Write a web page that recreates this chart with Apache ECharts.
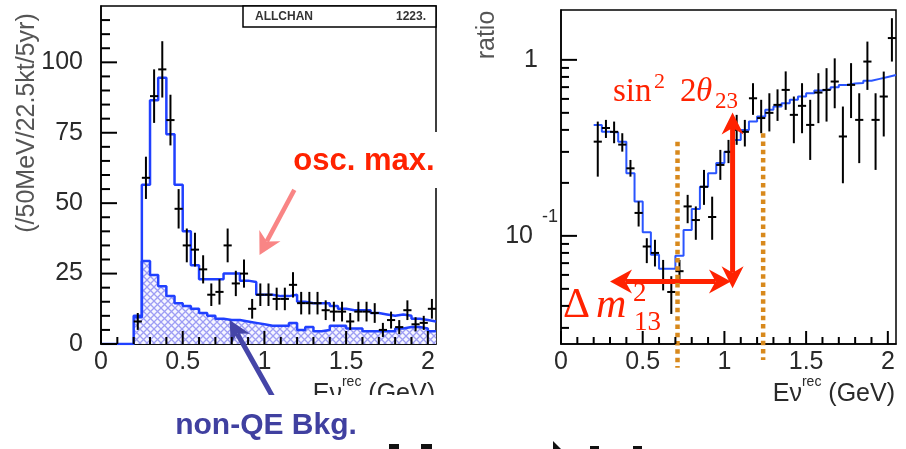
<!DOCTYPE html>
<html>
<head>
<meta charset="utf-8">
<script src="https://cdn.jsdelivr.net/npm/echarts@6/dist/echarts.min.js"></script>
<style>
  html, body { margin: 0; background: #fff; }
  #wrap { position: relative; width: 906px; height: 449px; }
  #chart { position: absolute; left: 0; top: 0; width: 906px; height: 449px; background: #fff; }
  #ticks { position: absolute; left: 0; top: 0; pointer-events: none; }
</style>
</head>
<body>
<div id="wrap">
  <div id="chart"></div>
  <canvas id="ticks" width="906" height="449"></canvas>
</div>
<script>
// 50 MeV bins of reconstructed neutrino energy (bin centres, GeV)
const energy = [0.225, 0.275, 0.325, 0.375, 0.425, 0.475, 0.525, 0.575, 0.625, 0.675,
  0.725, 0.775, 0.825, 0.875, 0.925, 0.975, 1.025, 1.075, 1.125, 1.175,
  1.225, 1.275, 1.325, 1.375, 1.425, 1.475, 1.525, 1.575, 1.625, 1.675,
  1.725, 1.775, 1.825, 1.875, 1.925, 1.975, 2.025]
const binWidth = 0.05

// left: events /50MeV/22.5kt/5yr
const expTotal = [10, 56.5, 86.5, 94.5, 74.5, 56.5, 40, 28, 23, 23,
  23, 25, 25, 22.5, 22, 17.5, 17.5, 17, 17, 17.5,
  15, 14.5, 14.5, 14.5, 13.5, 12.5, 12, 12, 12, 11,
  10.5, 10, 10.5, 10, 9, 8.5, 8]
const expBkg = [9.5, 29.5, 24.5, 20.5, 17, 14.5, 13.5, 12.5, 11, 10,
  9, 8.5, 8.5, 8, 7.5, 7, 6.5, 6.5, 6.5, 7.5,
  5, 6, 4.5, 5, 6.5, 6.5, 5.5, 5.5, 4.5, 4.5,
  4.5, 4.5, 5.5, 6, 6, 5.5, 4.5]
const obsCount = [8, 59, 88, 97.5, 79.5, 48, 35, 33.5, 26.5, 17.5,
  18.5, 35, 21.5, 25, 12.5, 17.5, 17.5, 16, 16, 21,
  14.5, 14.5, 14.5, 12, 11.5, 11.5, 8, 11.5, 11.5, 11,
  5, 8.5, 6, 12, 7, 7.5, 12.5]
const obsErr = [3, 7.5, 9.5, 10, 9, 7, 6, 6, 5, 4,
  4.5, 6, 4.5, 5, 3.5, 4, 4, 4, 4, 4.5,
  4, 4, 4, 3.5, 3.5, 3.5, 3, 3.5, 3.5, 3.5,
  2.5, 3, 2.5, 3.5, 2.5, 2.5, 3.5]

// right: oscillated / unoscillated ratio
const ratioExp = [0.427, 0.39, 0.387, 0.343, 0.227, 0.157, 0.105, 0.078, 0.065, 0.065,
  0.077, 0.108, 0.142, 0.19, 0.227, 0.259, 0.301, 0.351, 0.40, 0.446,
  0.476, 0.52, 0.543, 0.567, 0.593, 0.619, 0.646, 0.67, 0.68, 0.70,
  0.72, 0.735, 0.74, 0.76, 0.78, 0.80, 0.82]
const ratioObs = [0.343, 0.41, 0.39, 0.33, 0.242, 0.135, 0.087, 0.08, 0.056, 0.048,
  0.063, 0.147, 0.123, 0.19, 0.128, 0.253, 0.30, 0.40, 0.39, 0.605,
  0.467, 0.50, 0.555, 0.675, 0.487, 0.548, 0.427, 0.652, 0.675, 0.753,
  0.367, 0.721, 0.456, 0.978, 0.456, 0.619, 1.33]
const ratioLo = [0.217, 0.36, 0.336, 0.301, 0.217, 0.113, 0.07, 0.067, 0.049, 0.036,
  0.054, 0.118, 0.095, 0.15, 0.095, 0.208, 0.259, 0.329, 0.322, 0.487,
  0.383, 0.392, 0.45, 0.52, 0.336, 0.383, 0.27, 0.437, 0.446, 0.531,
  0.199, 0.467, 0.259, 0.675, 0.237, 0.367, 0.978]
const ratioHi = [0.446, 0.456, 0.446, 0.383, 0.27, 0.157, 0.097, 0.095, 0.073, 0.059,
  0.073, 0.171, 0.147, 0.237, 0.167, 0.308, 0.351, 0.487, 0.456, 0.737,
  0.593, 0.646, 0.68, 0.86, 0.619, 0.737, 0.593, 0.84, 0.897, 1.02,
  0.543, 0.958, 0.646, 1.27, 0.646, 0.858, 1.725]

// tick positions (ROOT style, drawn inside the frame)
const xMajorTicks = [0, 0.5, 1, 1.5, 2]
const xMinorTicks = [0.1, 0.2, 0.3, 0.4, 0.6, 0.7, 0.8, 0.9, 1.1, 1.2, 1.3, 1.4, 1.6, 1.7, 1.8, 1.9]
const countMajorTicks = [0, 25, 50, 75, 100]
const countMinorTicks = [5, 10, 15, 20, 30, 35, 40, 45, 55, 60, 65, 70, 80, 85, 90, 95, 105, 110, 115]
const logMajorTicks = [0.1, 1]
const logMinorTicks = [0.03, 0.04, 0.05, 0.06, 0.07, 0.08, 0.09, 0.2, 0.3, 0.4, 0.5, 0.6, 0.7, 0.8, 0.9]

// annotations in axis units [GeV, value]
const oscArrow = [[1.183, 54.7], [0.97, 31.6]]
const bkgArrow = [[1.055, -19.2], [0.787, 8.5]]
const cutEnergy = [0.713, 1.237]
const cutTop = [0.342, 0.383]
const cutBottom = [0.0178, 0.0197]
const dm2Arrow = [[0.30, 0.055], [1.04, 0.055]]
const th23Arrow = [[1.05, 0.0504], [1.05, 0.502]]

const sans = '"Liberation Sans", Arial, Helvetica, sans-serif'
const serif = '"Liberation Serif", "Times New Roman", serif'
const red = '#ff2200'
const blue = '#2040ff'
const yMin = [0, 0.0243]

const steps = (vals, start) => {
  const pts = start ? [start] : []
  vals.forEach((v, i) => pts.push([energy[i] - binWidth / 2, v]))
  pts.push([energy[energy.length - 1] + binWidth / 2, vals[vals.length - 1]])
  return pts
}

const hatch = document.createElement('canvas')
hatch.width = 7
hatch.height = 7
const hctx = hatch.getContext('2d')
hctx.fillStyle = '#f6f6ff'
hctx.fillRect(0, 0, 7, 7)
hctx.strokeStyle = 'rgba(120,120,240,0.7)'
hctx.lineWidth = 1.3
hctx.beginPath()
hctx.moveTo(0, 0); hctx.lineTo(7, 7)
hctx.moveTo(7, 0); hctx.lineTo(0, 7)
hctx.stroke()

const seg = (a, b, color, width) => ({
  type: 'line', shape: { x1: a[0], y1: a[1], x2: b[0], y2: b[1] }, style: { stroke: color, lineWidth: width }
})

const crossRender = (params, api) => {
  const x = api.value(0)
  const v = api.value(1)
  return {
    type: 'group',
    children: [
      seg(api.coord([x, api.value(2)]), api.coord([x, api.value(3)]), '#000', 2),
      seg(api.coord([x - binWidth / 2, v]), api.coord([x + binWidth / 2, v]), '#000', 2)
    ]
  }
}

const head = (tip, ux, uy, len, half, color) => {
  const bx = tip[0] - ux * len
  const by = tip[1] - uy * len
  const nx = -uy
  const ny = ux
  return {
    type: 'polygon',
    shape: { points: [tip, [bx + nx * half, by + ny * half], [tip[0] - ux * len * 0.7, tip[1] - uy * len * 0.7], [bx - nx * half, by - ny * half]] },
    style: { fill: color }
  }
}

const arrow = (p0, p1, color, width, len, half, both) => {
  const dx = p1[0] - p0[0]
  const dy = p1[1] - p0[1]
  const d = Math.hypot(dx, dy)
  const ux = dx / d
  const uy = dy / d
  const s = both ? [p0[0] + ux * len * 0.7, p0[1] + uy * len * 0.7] : p0
  const e = [p1[0] - ux * len * 0.7, p1[1] - uy * len * 0.7]
  const out = [seg(s, e, color, width), head(p1, ux, uy, len, half, color)]
  if (both) out.push(head(p0, -ux, -uy, len, half, color))
  return out
}

const xAxisOf = (gridIndex) => ({
  gridIndex,
  type: 'value',
  min: 0,
  max: 2.05,
  interval: 0.5,
  axisLine: { show: true, onZero: false, lineStyle: { color: '#000', width: 1.5 } },
  splitLine: { show: false },
  axisTick: { show: false },
  minorTick: { show: false },
  axisLabel: {
    margin: 6, fontSize: 25, color: '#2a2a2a', fontFamily: sans,
    formatter: (v) => (v > 2.01 ? '' : String(v))
  }
})

const txt = (text, x, y, font, fill, align, extra) => Object.assign({
  type: 'text', x, y, z: 110,
  style: { text, font, fill, textAlign: align, align, textVerticalAlign: 'middle', verticalAlign: 'middle' }
}, extra || {})

const titleRich = {
  m: { font: '25px ' + sans, fill: '#2a2a2a', textFill: '#2a2a2a' },
  s: { font: '14px ' + sans, fill: '#2a2a2a', textFill: '#2a2a2a', padding: [0, 0, 24, 0] }
}

const option = {
  animation: false,
  grid: [
    { left: 101, top: 6, width: 335, height: 338, show: true, borderColor: '#000', borderWidth: 1.5 },
    { left: 561, top: 10, width: 335, height: 334, show: true, borderColor: '#000', borderWidth: 1.5 }
  ],
  xAxis: [xAxisOf(0), xAxisOf(1)],
  yAxis: [
    {
      gridIndex: 0, type: 'value', min: 0, max: 120, interval: 25,
      axisLine: { show: true, lineStyle: { color: '#000', width: 1.5 } }, splitLine: { show: false },
      axisTick: { show: false }, minorTick: { show: false },
      axisLabel: {
        margin: 18, fontSize: 25, color: '#2a2a2a', fontFamily: sans,
        formatter: (v) => (v > 110 ? '' : String(v))
      }
    },
    {
      gridIndex: 1, type: 'log', min: 0.0243, max: 1.92,
      axisLine: { show: true, lineStyle: { color: '#000', width: 1.5 } }, splitLine: { show: false },
      axisTick: { show: false }, minorTick: { show: false },
      axisLabel: {
        margin: 3,
        formatter: (v) => {
          if (Math.abs(v - 1) < 1e-6) return '{one|1}'
          if (Math.abs(v - 0.1) < 1e-7) return '{n|10}{e|-1}'
          return ''
        },
        rich: {
          n: { fontSize: 25, color: '#2a2a2a', fontFamily: sans },
          one: { fontSize: 25, color: '#2a2a2a', fontFamily: sans, padding: [0, 20, 0, 0] },
          e: { fontSize: 18, color: '#2a2a2a', fontFamily: sans, padding: [0, 0, 38, 9] }
        }
      }
    }
  ],
  series: [
    {
      type: 'line', xAxisIndex: 0, yAxisIndex: 0, step: 'end', showSymbol: false, z: 3,
      data: steps(expBkg),
      lineStyle: { color: blue, width: 2.5 },
      areaStyle: { color: { image: hatch, repeat: 'repeat' }, opacity: 1 }
    },
    {
      type: 'line', xAxisIndex: 0, yAxisIndex: 0, step: 'end', showSymbol: false, z: 4,
      data: steps(expTotal, [0, 0]),
      lineStyle: { color: blue, width: 2.5 }
    },
    {
      type: 'custom', xAxisIndex: 0, yAxisIndex: 0, z: 5, renderItem: crossRender,
      data: energy.map((e, i) => [e, obsCount[i], obsCount[i] - obsErr[i], obsCount[i] + obsErr[i]])
    },
    {
      type: 'custom', xAxisIndex: 0, yAxisIndex: 0, z: 6, data: [[1, 1]],
      renderItem: (params, api) => ({
        type: 'group',
        children: [
          ...arrow(api.coord(oscArrow[0]), api.coord(oscArrow[1]), '#f98585', 4.5, 22, 12, false),
          ...arrow(api.coord(bkgArrow[0]), api.coord(bkgArrow[1]), '#4545a8', 5, 22, 11, false)
        ]
      })
    },
    {
      type: 'line', xAxisIndex: 1, yAxisIndex: 1, step: 'end', showSymbol: false, z: 3,
      data: steps(ratioExp),
      lineStyle: { color: '#2a55ff', width: 2 }
    },
    {
      type: 'custom', xAxisIndex: 1, yAxisIndex: 1, z: 5, renderItem: crossRender,
      data: energy.map((e, i) => [e, ratioObs[i], ratioLo[i], ratioHi[i]])
    },
    {
      type: 'custom', xAxisIndex: 1, yAxisIndex: 1, z: 6, data: [[1, 1]],
      renderItem: (params, api) => ({
        type: 'group',
        children: [
          ...arrow(api.coord(dm2Arrow[0]), api.coord(dm2Arrow[1]), red, 5, 22, 12, true),
          ...arrow(api.coord(th23Arrow[0]), api.coord(th23Arrow[1]), red, 5, 22, 11, true),
          ...cutEnergy.map((e, i) => {
            const a = api.coord([e, cutTop[i]])
            const b = api.coord([e, cutBottom[i]])
            return { type: 'line', shape: { x1: a[0], y1: a[1], x2: b[0], y2: b[1] }, style: { stroke: '#d8891c', lineWidth: 4.5, lineDash: [4.5, 3.8] } }
          })
        ]
      })
    }
  ],
  graphic: [
    txt('(/50MeV/22.5kt/5yr)', 27, 123, '25px ' + sans, '#555', 'center', { rotation: Math.PI / 2 }),
    txt('ratio', 487, 35, '25px ' + sans, '#555', 'center', { rotation: Math.PI / 2 }),
    { type: 'text', x: 435, y: 394, z: 90, style: { text: '{m|Eν}{s|rec}{m| (GeV)}', rich: titleRich, textAlign: 'right', align: 'right', textVerticalAlign: 'middle', verticalAlign: 'middle' } },
    { type: 'text', x: 895, y: 394, z: 90, style: { text: '{m|Eν}{s|rec}{m| (GeV)}', rich: titleRich, textAlign: 'right', align: 'right', textVerticalAlign: 'middle', verticalAlign: 'middle' } },
    { type: 'rect', z: 100, shape: { x: 150, y: 395, width: 296, height: 54 }, style: { fill: '#fff' } },
    { type: 'rect', z: 100, shape: { x: 286, y: 132, width: 160, height: 56 }, style: { fill: '#fff' } },
    { type: 'rect', z: 100, shape: { x: 243, y: 6, width: 193, height: 21 }, style: { fill: '#fff', stroke: '#000', lineWidth: 1.5 } },
    txt('ALLCHAN', 255, 17, 'bold 12px ' + sans, '#333', 'left'),
    txt('1223.', 426, 17, 'bold 12px ' + sans, '#333', 'right'),
    txt('osc. max.', 364, 161, 'bold 31px ' + sans, red, 'center'),
    txt('non-QE Bkg.', 266, 426, 'bold 30px ' + sans, '#4040a0', 'center'),
    txt('sin', 613, 92, '33px ' + serif, red, 'left'),
    txt('2', 654, 82, '22px ' + serif, red, 'left'),
    txt('2', 680, 92, '33px ' + serif, red, 'left'),
    txt('θ', 696, 92, 'italic 33px ' + serif, red, 'left'),
    txt('23', 715, 102, '23px ' + serif, red, 'left'),
    txt('Δ', 563, 306, '42px ' + serif, red, 'left'),
    txt('m', 596, 306, 'italic 42px ' + serif, red, 'left'),
    txt('2', 633, 294, '27px ' + serif, red, 'left'),
    txt('13', 634, 323, '27px ' + serif, red, 'left'),
    { type: 'rect', z: 110, shape: { x: 389, y: 444, width: 10, height: 5 }, style: { fill: '#111' } },
    { type: 'rect', z: 110, shape: { x: 421, y: 444, width: 11, height: 5 }, style: { fill: '#111' } },
    { type: 'polygon', z: 110, shape: { points: [[553, 441], [561, 449], [553, 449]] }, style: { fill: '#111' } },
    { type: 'rect', z: 110, shape: { x: 590, y: 446, width: 9, height: 3 }, style: { fill: '#111' } },
    { type: 'rect', z: 110, shape: { x: 633, y: 446, width: 9, height: 3 }, style: { fill: '#111' } }
  ]
}

const chart = echarts.init(document.getElementById('chart'))
try {
  chart.setOption(option)
} catch (e) {
  console.error(e)
}

// ROOT-style inside ticks, placed with the chart's own axis scales
const tctx = document.getElementById('ticks').getContext('2d')
tctx.strokeStyle = '#000'
tctx.lineWidth = 2
const tick = (gridIndex, pt, dx, dy) => {
  let p = null
  try {
    p = chart.convertToPixel({ gridIndex }, pt)
  } catch (e) {
    p = null
  }
  if (!p || !isFinite(p[0]) || !isFinite(p[1])) return
  tctx.beginPath()
  tctx.moveTo(p[0], p[1])
  tctx.lineTo(p[0] + dx, p[1] + dy)
  tctx.stroke()
}
;[0, 1].forEach((g) => {
  xMajorTicks.forEach((v) => tick(g, [v, yMin[g]], 0, -13))
  xMinorTicks.forEach((v) => tick(g, [v, yMin[g]], 0, -7))
})
countMajorTicks.forEach((v) => tick(0, [0, v], 16, 0))
countMinorTicks.forEach((v) => tick(0, [0, v], 9, 0))
logMajorTicks.forEach((v) => tick(1, [0, v], 16, 0))
logMinorTicks.forEach((v) => tick(1, [0, v], 8, 0))
</script>
</body>
</html>
